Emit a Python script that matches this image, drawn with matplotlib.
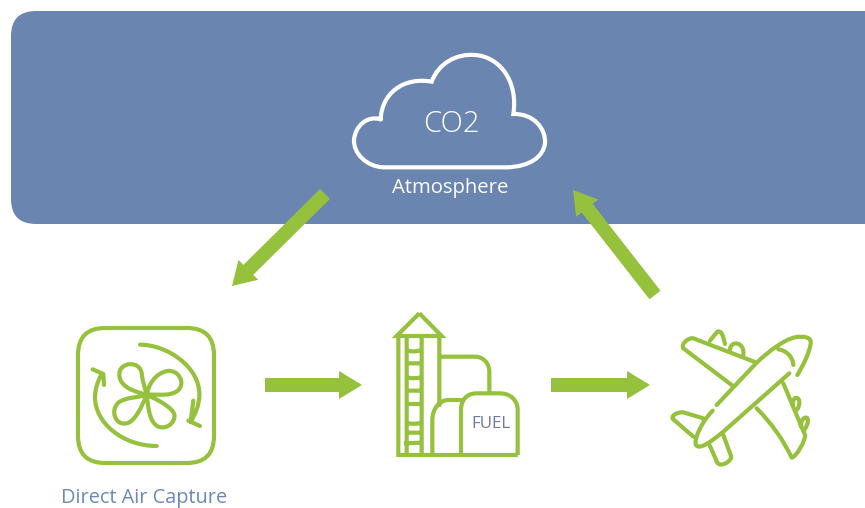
import matplotlib
matplotlib.use("Agg")
import matplotlib.pyplot as plt
from matplotlib.path import Path
from matplotlib.patches import PathPatch, FancyBboxPatch

plt.rcParams['font.family'] = ['Open Sans', 'DejaVu Sans']

blue = "#6a85b0"
green = "#95c13d"
label_blue = "#6c88b8"
fuel_blue = "#6f78aa"

# arrows: start x, start y, end x, end y (image pixels)
arrows = [
    (325, 194, 232, 286),
    (655, 295, 573, 190),
    (265, 385, 362, 385),
    (551, 385, 650, 385),
]

# shapes are traced in zoomed crops: a start point, then segments of
# either 1 point (line) or 3 points (cubic curve)
cloud = [[(122, 238), [(125, 160), (190, 110), (275, 125)], [(295, 70), (350, 40), (405, 45)],
          [(480, 50), (535, 125), (520, 222)], [(580, 220), (618, 265), (615, 310)],
          [(610, 350), (570, 380), (500, 382)], [(130, 382)], [(80, 380), (40, 340), (42, 300)],
          [(45, 260), (80, 225), (122, 238)]]]

c = (260, 255)
fan = [
    [c, [(230, 245), (180, 235), (178, 195)], [(176, 155), (240, 150), (245, 190)], [(248, 215), (255, 235), c]],
    [c, [(265, 225), (285, 190), (322, 183)], [(355, 178), (380, 220), (352, 243)], [(325, 262), (285, 250), c]],
    [c, [(235, 262), (195, 262), (175, 278)], [(150, 300), (165, 348), (200, 340)], [(225, 335), (245, 290), c]],
    [c, [(265, 285), (265, 335), (295, 350)], [(325, 362), (360, 325), (335, 300)], [(315, 280), (285, 265), c]],
    # big arrows round the fan
    [(240, 104), [(320, 104), (420, 170), (418, 255)], [(418, 285), (405, 315), (392, 335)]],
    [(400, 272), [(392, 335)]],
    [(385, 332), [(420, 348)]],
    [(290, 408), [(190, 408), (105, 340), (105, 262)], [(105, 240), (112, 215), (125, 192)]],
    [(98, 178), [(130, 192)], [(132, 225)]],
]

silo = [
    [(118, 40), [(50, 108)], [(185, 108)], [(118, 40)]],
    [(55, 108), [(55, 465)], [(413, 465)]],
    [(178, 108), [(178, 320)]],
    [(80, 108), [(80, 465)]],
    [(125, 108), [(125, 465)]],
    [(178, 170), [(285, 170)], [(310, 170), (328, 190), (328, 215)], [(328, 280)]],
    [(157, 465), [(157, 360)], [(157, 325), (180, 300), (205, 300)], [(250, 300)]],
    [(243, 465), [(243, 330)], [(243, 300), (260, 280), (290, 280)], [(360, 280)],
     [(390, 280), (413, 300), (413, 330)], [(413, 465)]],
    [(78, 150), [(95, 156), (110, 155), (125, 150)]],
    [(78, 190), [(125, 190)]],
    [(78, 232), [(95, 236), (110, 235), (125, 232)]],
    [(78, 272), [(125, 272)]],
    [(78, 312), [(125, 312)]],
    [(78, 368), [(95, 373), (110, 372), (125, 368)]],
    [(75, 398), [(125, 398)]],
    [(72, 430), [(125, 428)]],
]

plane = [
    [(412, 165), [(430, 135), (448, 100), (452, 70)], [(455, 50), (430, 48), (405, 52)],
     [(375, 58), (330, 90), (290, 128)], [(170, 255)]],
    [(158, 272), [(125, 305), (100, 360), (108, 375)], [(118, 390), (150, 368), (190, 335)], [(388, 160)]],
    [(355, 88), [(380, 92), (398, 110), (400, 135)]],
    [(282, 125), [(100, 55)], [(85, 52), (62, 72), (70, 85)], [(215, 195)]],
    [(150, 62), [(172, 35)], [(185, 30), (190, 50), (195, 72)]],
    [(210, 88), [(212, 60), (255, 65), (250, 104)]],
    [(370, 190), [(435, 345)], [(437, 360), (410, 410), (395, 413)], [(370, 360), (335, 310), (290, 265)]],
    [(398, 252), [(398, 220), (432, 232), (412, 268)]],
    [(422, 318), [(425, 280), (462, 285), (433, 330)]],
    [(130, 295), [(70, 277)], [(50, 275), (30, 290), (40, 298)], [(100, 350)]],
    [(150, 378), [(172, 428)], [(182, 445), (222, 420), (212, 405)], [(190, 345)]],
]

# crop origin of each traced shape
cloud_origin = (340, 40)
fan_origin = (60, 310)
silo_origin = (380, 300)
plane_origin = (660, 320)


def trace(strokes, origin):
    verts, codes = [], []
    for stroke in strokes:
        verts.append(stroke[0])
        codes.append(Path.MOVETO)
        for seg in stroke[1:]:
            verts.extend(seg)
            codes.extend([Path.LINETO] if len(seg) == 1 else [Path.CURVE4] * 3)
    verts = [(origin[0] + x / 3, origin[1] + y / 3) for x, y in verts]
    return Path(verts, codes)


fig = plt.figure(figsize=(8.65, 5.08), dpi=100)
ax = fig.add_axes([0, 0, 1, 1])
ax.set_xlim(0, 865)
ax.set_ylim(508, 0)
ax.axis("off")

# sky band runs off the right edge
ax.add_patch(FancyBboxPatch((36, 11 + 25), 880 - 36 * 2 + 36, 213 - 50,
                            boxstyle="round,pad=25,rounding_size=25", fc=blue, ec="none"))
ax.add_patch(PathPatch(trace(cloud, cloud_origin), fc="none", ec="white", lw=3.0, capstyle="round"))
ax.add_patch(FancyBboxPatch((78 + 27, 328 + 27), 136 - 54, 135 - 54,
                            boxstyle="round,pad=27,rounding_size=27", fc="none", ec=green, lw=3.0))
ax.add_patch(PathPatch(trace(fan, fan_origin), fc="none", ec=green, lw=3.0, capstyle="round", joinstyle="round"))
ax.add_patch(PathPatch(trace(silo, silo_origin), fc="none", ec=green, lw=3.0, joinstyle="miter"))
ax.add_patch(PathPatch(trace(plane, plane_origin), fc="none", ec=green, lw=3.0, capstyle="round", joinstyle="round"))

for x0, y0, x1, y1 in arrows:
    ax.arrow(x0, y0, x1 - x0, y1 - y0, width=14, head_width=28, head_length=23,
             length_includes_head=True, fc=green, ec="none")

ax.text(451, 124, "CO2", color="white", fontsize=21, ha="center", va="center", fontweight="light")
ax.text(450.5, 188, "Atmosphere", color="white", fontsize=14.6, ha="center", va="center")
ax.text(144, 498, "Direct Air Capture", color=label_blue, fontsize=14.3, ha="center", va="center")
ax.text(490.5, 424, "FUEL", color=fuel_blue, fontsize=12.2, ha="center", va="center")

fig.savefig("out.png", dpi=100)
